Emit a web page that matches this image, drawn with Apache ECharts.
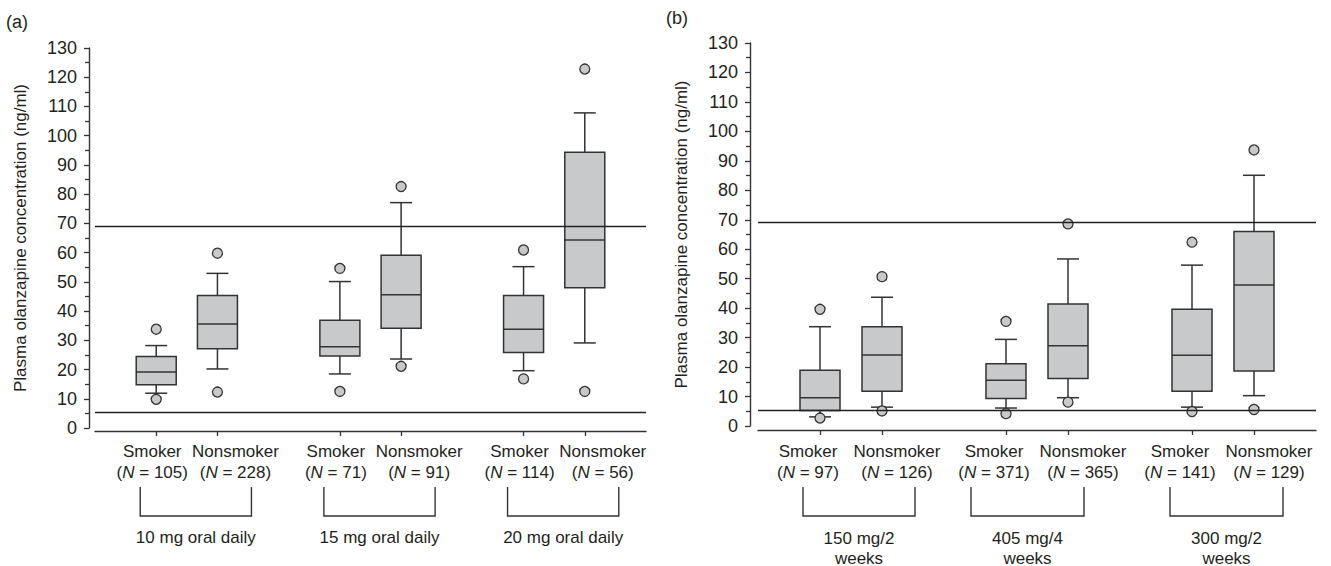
<!DOCTYPE html>
<html>
<head>
<meta charset="utf-8">
<script src="https://cdn.jsdelivr.net/npm/echarts@6/dist/echarts.min.js"></script>
<style>
  html, body { margin: 0; padding: 0; background: #ffffff; }
  #chart { width: 1331px; height: 566px; }
</style>
</head>
<body>
<div id="chart"></div>
<script>
  // slot of each box on the x axis (smoker, nonsmoker per dose group)
  const slots = [0, 1, 3, 4, 6, 7];
  const kinds = ['Smoker', 'Nonsmoker', 'Smoker', 'Nonsmoker', 'Smoker', 'Nonsmoker'];

  // panel (a): oral
  const groupsA = ['10 mg oral daily', '15 mg oral daily', '20 mg oral daily'];
  const countsA = [105, 228, 71, 91, 114, 56];
  // [lower whisker, Q1, median, Q3, upper whisker]
  const statsA = [
    [11.9, 14.8, 19.2, 24.5, 28.2],
    [20.2, 27.1, 35.6, 45.3, 52.9],
    [18.5, 24.6, 27.8, 36.9, 50.1],
    [23.6, 34.1, 45.6, 59.1, 77.1],
    [19.6, 25.8, 33.8, 45.3, 55.2],
    [29.1, 48.0, 64.3, 94.3, 107.8]
  ];
  const outliersA = [[9.8, 33.8], [12.3, 59.8], [12.5, 54.6], [21.1, 82.6], [16.8, 60.9], [12.5, 122.8]];

  // panel (b): long acting injection
  const groupsB = ['150 mg/2\nweeks', '405 mg/4\nweeks', '300 mg/2\nweeks'];
  const countsB = [97, 126, 371, 365, 141, 129];
  const statsB = [
    [3.1, 5.3, 9.6, 18.9, 33.7],
    [6.4, 11.8, 24.1, 33.7, 43.7],
    [6.1, 9.3, 15.5, 21.1, 29.4],
    [9.6, 16.1, 27.2, 41.4, 56.7],
    [6.4, 11.8, 24.0, 39.6, 54.6],
    [10.3, 18.7, 47.9, 66.0, 85.1]
  ];
  const outliersB = [[2.7, 39.6], [5.1, 50.7], [4.2, 35.5], [8.1, 68.6], [4.9, 62.4], [5.6, 93.7]];

  // reference range lines
  const refLines = [5.4, 69];

  const yTitle = 'Plasma olanzapine concentration (ng/ml)';
  const ink = '#231f20';
  const stroke = '#333333';
  const boxFill = '#c8c9cb';
  const font = '"Liberation Sans", Arial, sans-serif';

  let chart = echarts.init(document.getElementById('chart'), null, { renderer: 'svg' });

  function renderBox(params, api) {
    let x = api.value(0);
    let lo = api.coord([x, api.value(1)]);
    let q1 = api.coord([x, api.value(2)]);
    let md = api.coord([x, api.value(3)]);
    let q3 = api.coord([x, api.value(4)]);
    let hi = api.coord([x, api.value(5)]);
    let cx = lo[0];
    let hw = 20, cw = 11;
    let ls = { stroke: stroke, lineWidth: 1.5, fill: null };
    return {
      type: 'group',
      children: [
        { type: 'line', shape: { x1: cx, y1: hi[1], x2: cx, y2: q3[1] }, style: ls },
        { type: 'line', shape: { x1: cx, y1: q1[1], x2: cx, y2: lo[1] }, style: ls },
        { type: 'line', shape: { x1: cx - cw, y1: hi[1], x2: cx + cw, y2: hi[1] }, style: ls },
        { type: 'line', shape: { x1: cx - cw, y1: lo[1], x2: cx + cw, y2: lo[1] }, style: ls },
        { type: 'rect', shape: { x: cx - hw, y: q3[1], width: hw * 2, height: q1[1] - q3[1] },
          style: { fill: boxFill, stroke: stroke, lineWidth: 1.5 } },
        { type: 'line', shape: { x1: cx - hw, y1: md[1], x2: cx + hw, y2: md[1] }, style: ls }
      ]
    };
  }

  function panelSeries(idx, stats, outliers) {
    return [
      {
        type: 'custom',
        xAxisIndex: idx,
        yAxisIndex: idx,
        renderItem: renderBox,
        encode: { x: 0, y: [1, 2, 3, 4, 5] },
        data: stats.map((s, i) => [slots[i]].concat(s)),
        clip: false,
        z: 2
      },
      {
        type: 'scatter',
        xAxisIndex: idx,
        yAxisIndex: idx,
        symbol: 'circle',
        symbolSize: 10,
        itemStyle: { color: boxFill, borderColor: stroke, borderWidth: 1.3, opacity: 1 },
        data: outliers.flatMap((o, i) => o.map(v => [slots[i], v])),
        z: 4,
        markLine: {
          silent: true,
          symbol: ['none', 'none'],
          label: { show: false },
          lineStyle: { color: '#222222', width: 1.4, type: 'solid' },
          data: refLines.map(v => ({ yAxis: v })),
          z: 5
        }
      }
    ];
  }

  function xAxisOf(idx, offset) {
    return {
      gridIndex: idx,
      type: 'value',
      min: -1,
      max: 8,
      offset: offset,
      axisLine: { show: true, onZero: false, lineStyle: { color: stroke, width: 1.4 } },
      axisTick: { show: true, customValues: slots, length: 5, lineStyle: { color: stroke, width: 1.3 } },
      axisLabel: { show: false },
      splitLine: { show: false }
    };
  }

  function yAxisOf(idx, offset) {
    return {
      gridIndex: idx,
      type: 'value',
      min: 0,
      max: 130,
      interval: 10,
      offset: offset,
      name: yTitle,
      nameLocation: 'middle',
      nameGap: 60,
      nameTextStyle: { fontSize: 17, color: ink, fontFamily: font },
      axisLine: { show: true, onZero: false, lineStyle: { color: stroke, width: 1.4 } },
      axisTick: { show: true, length: 5, lineStyle: { color: stroke, width: 1.3 } },
      minorTick: { show: true, splitNumber: 2, length: 4, lineStyle: { color: stroke, width: 1.3 } },
      axisLabel: { fontSize: 18, color: ink, fontFamily: font, margin: 12 },
      splitLine: { show: false }
    };
  }

  let option = {
    backgroundColor: '#ffffff',
    animation: false,
    grid: [
      { left: 95, top: 48, width: 551, height: 380 },
      { left: 758, top: 43, width: 558, height: 383 }
    ],
    xAxis: [xAxisOf(0, 3), xAxisOf(1, 4)],
    yAxis: [yAxisOf(0, 6), yAxisOf(1, 8)],
    series: panelSeries(0, statsA, outliersA).concat(panelSeries(1, statsB, outliersB))
  };
  chart.setOption(option);

  // labels under the axes: category names, counts, dose brackets
  function panelGraphics(idx, counts, groups, labelShift, brackets, groupY) {
    let els = [];
    let px = slots.map(s => chart.convertToPixel({ xAxisIndex: idx }, s));
    px.forEach((x, i) => {
      els.push({
        type: 'text',
        x: x + labelShift[i % 2],
        y: 462,
        style: {
          text: kinds[i] + '\n({i|N} = ' + counts[i] + ')',
          font: '17px ' + font,
          fill: ink,
          align: 'center',
          verticalAlign: 'middle',
          lineHeight: 21.6,
          rich: { i: { fontStyle: 'italic', fontSize: 17, fontFamily: font, fill: ink } }
        }
      });
    });
    groups.forEach((g, k) => {
      let x0 = px[k * 2] + brackets[k][0];
      let x1 = px[k * 2 + 1] + brackets[k][1];
      els.push({
        type: 'polyline',
        shape: { points: [[x0, 487], [x0, 516], [x1, 516], [x1, 487]] },
        style: { stroke: stroke, lineWidth: 1.4, fill: null }
      });
      els.push({
        type: 'text',
        x: (x0 + x1) / 2,
        y: groupY,
        style: {
          text: g,
          font: '17px ' + font,
          fill: ink,
          align: 'center',
          verticalAlign: 'middle',
          lineHeight: 20
        }
      });
    });
    return els;
  }

  let graphics = []
    .concat(panelGraphics(0, countsA, groupsA, [-4, 18], [[-16, 34], [-16, 34], [-16, 34]], 537))
    .concat(panelGraphics(1, countsB, groupsB, [-12, 15], [[-17, 33], [-35, 16], [-22, 29]], 548));
  graphics.push({ type: 'text', x: 6, y: 22, style: { text: '(a)', font: '18px ' + font, fill: ink, verticalAlign: 'middle' } });
  graphics.push({ type: 'text', x: 666, y: 18, style: { text: '(b)', font: '18px ' + font, fill: ink, verticalAlign: 'middle' } });

  chart.setOption({ graphic: graphics });

  window.addEventListener('resize', function () {
    chart.resize();
  });
</script>
</body>
</html>
